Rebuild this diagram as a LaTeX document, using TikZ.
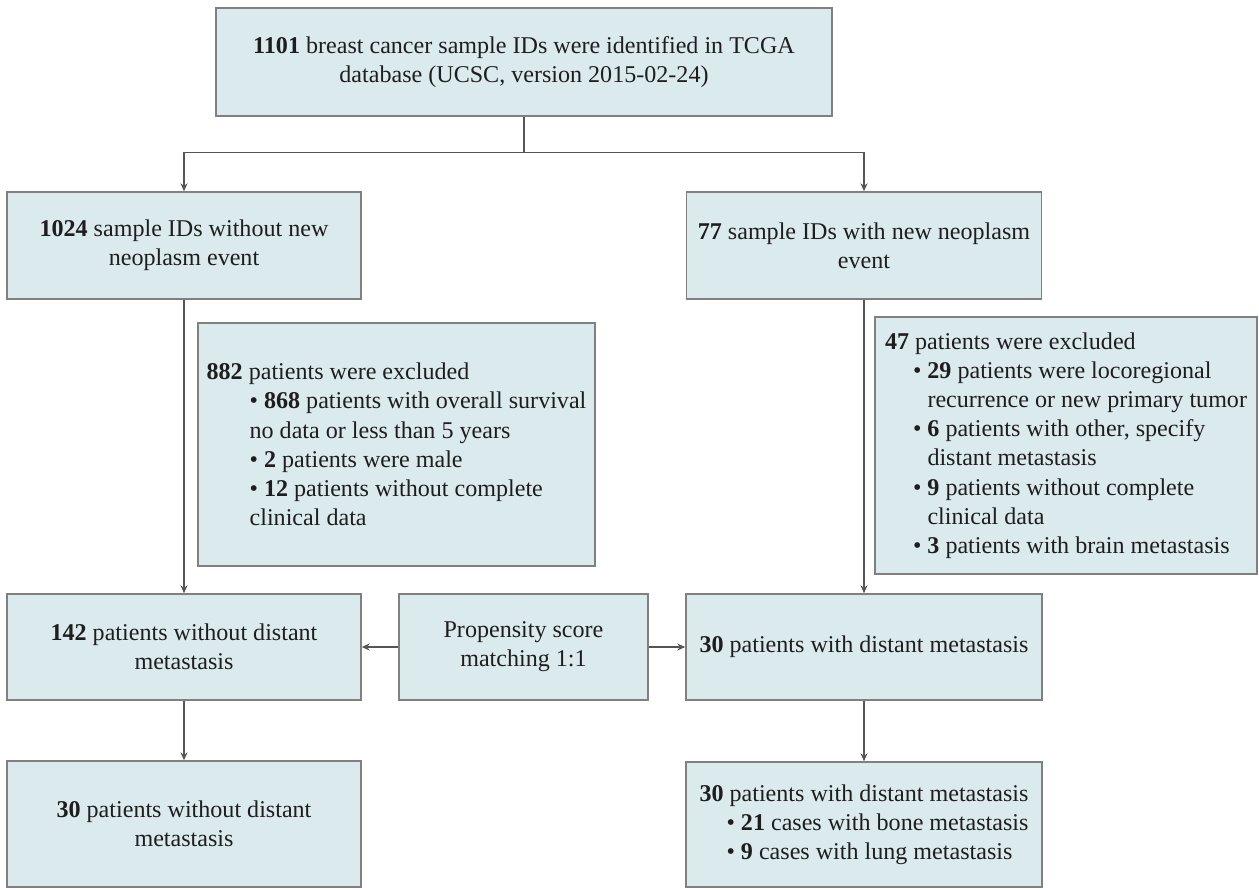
\documentclass[tikz,border=0pt]{standalone}
\usepackage{fontspec}
\setmainfont{Liberation Serif}
\definecolor{boxfill}{RGB}{219,234,237}
\definecolor{boxgray}{RGB}{128,128,128}
\definecolor{linegray}{RGB}{85,85,85}
\definecolor{txtgray}{RGB}{30,30,30}
\usetikzlibrary{arrows.meta}
\newcommand{\bul}{\textbullet\ }
\tikzset{
  bx/.style={draw=boxgray, fill=boxfill, minimum width=#1, inner sep=2pt,
             align=center, text=txtgray, line width=0.9pt,
             font=\fontsize{13.7}{16.6}\selectfont},
  bxL/.style={bx=#1, align=left},
  arr/.style={-{Stealth[length=4.5pt,width=4pt]}, draw=linegray, line width=0.7pt},
}
\begin{document}
\begin{tikzpicture}
  \useasboundingbox (0,0) rectangle (25.18,-17.78);
  \node[bx=12.32cm, minimum height=2.16cm] (all) at (10.48,-1.24)
    {\textbf{1101} breast cancer sample IDs were identified in TCGA\\database (UCSC, version 2015-02-24)};
  \node[bx=7.08cm, minimum height=2.14cm] (noev) at (3.68,-4.91)
    {\textbf{1024} sample IDs without new\\neoplasm event};
  \node[bx=7.10cm, minimum height=2.14cm] (ev) at (17.28,-4.91)
    {\textbf{77} sample IDs with new neoplasm\\event};

  \node[bxL=7.94cm, minimum height=4.86cm] (exA) at (7.93,-8.89)
    {\textbf{882} patients were excluded\\
     \hspace*{0.86cm}\bul\textbf{868} patients with overall survival\\
     \hspace*{0.86cm}no data or less than 5 years\\
     \hspace*{0.86cm}\bul\textbf{2} patients were male\\
     \hspace*{0.86cm}\bul\textbf{12} patients without complete\\
     \hspace*{0.86cm}clinical data};
  \node[bxL=7.64cm, minimum height=5.14cm] (exB) at (21.32,-8.91)
    {\textbf{47} patients were excluded\\
     \hspace*{0.56cm}\bul\textbf{29} patients were locoregional\\
     \hspace*{0.85cm}recurrence or new primary tumor\\
     \hspace*{0.56cm}\bul\textbf{6} patients with other, specify\\
     \hspace*{0.85cm}distant metastasis\\
     \hspace*{0.56cm}\bul\textbf{9} patients without complete\\
     \hspace*{0.85cm}clinical data\\
     \hspace*{0.56cm}\bul\textbf{3} patients with brain metastasis};

  \node[bx=7.08cm, minimum height=2.12cm] (nodm) at (3.68,-12.94)
    {\textbf{142} patients without distant\\metastasis};
  \node[bx=4.98cm, minimum height=2.12cm] (psm) at (10.47,-12.94)
    {Propensity score\\matching 1:1};
  \node[bx=7.12cm, minimum height=2.12cm] (dm) at (17.28,-12.94)
    {\textbf{30} patients with distant metastasis};

  \node[bx=7.08cm, minimum height=2.52cm] (nodmF) at (3.68,-16.48)
    {\textbf{30} patients without distant\\metastasis};
  \node[bxL=7.12cm, minimum height=2.50cm] (dmF) at (17.28,-16.49)
    {\textbf{30} patients with distant metastasis\\
     \hspace*{0.54cm}\bul\textbf{21} cases with bone metastasis\\
     \hspace*{0.54cm}\bul\textbf{9} cases with lung metastasis};

  \draw[arr] (all.south) -- ++(0,-0.72) -| (noev.north);
  \draw[arr] (all.south) -- ++(0,-0.72) -| (ev.north);
  \draw[arr] (noev) -- (nodm);
  \draw[arr] (ev) -- (dm);
  \draw[arr] (psm) -- (nodm);
  \draw[arr] (psm) -- (dm);
  \draw[arr] (nodm) -- (nodmF);
  \draw[arr] (dm) -- (dmF);
\end{tikzpicture}
\end{document}
